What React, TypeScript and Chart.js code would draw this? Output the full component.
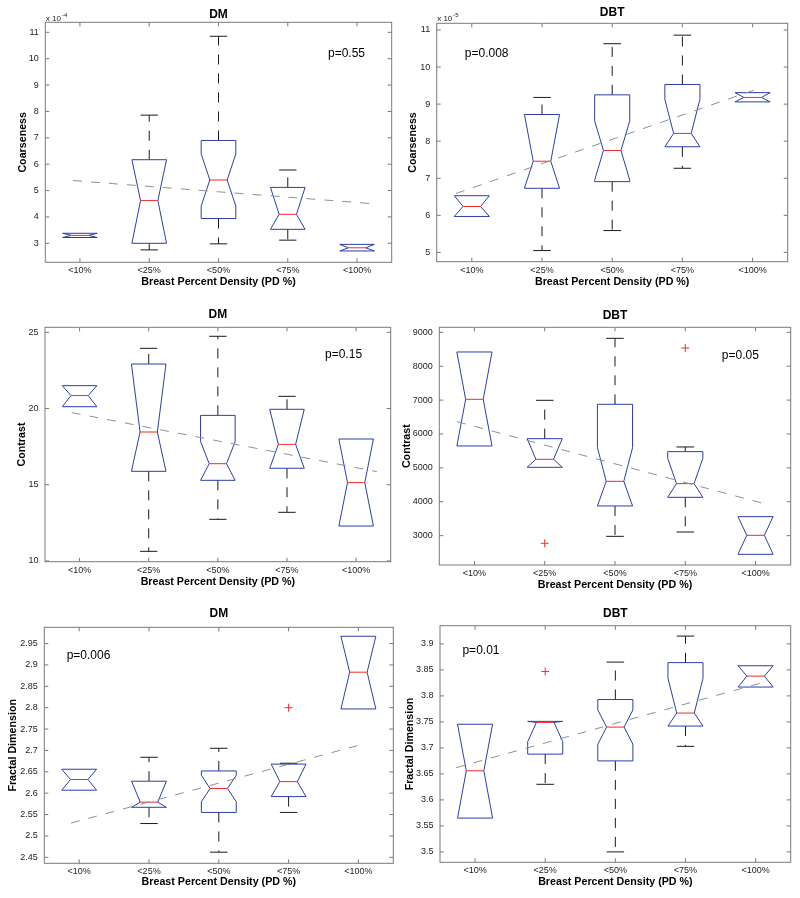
import React, { useEffect, useRef } from 'react';
import { Chart, registerables } from 'chart.js';

Chart.register(...registerables);

// ---------------- DATA ----------------
const categories = ['<10%', '<25%', '<50%', '<75%', '<100%'];
const xAxisTitle = 'Breast Percent Density (PD %)';

// DM – Coarseness (x 10^-4)
const dmCoarseLow = [3.22, 2.75, 2.98, 3.12, 2.71];
const dmCoarseQ1 = [3.22, 3.0, 3.94, 3.53, 2.71];
const dmCoarseMed = [3.3, 4.62, 5.4, 4.1, 2.83];
const dmCoarseQ3 = [3.38, 6.17, 6.9, 5.12, 2.96];
const dmCoarseHigh = [3.38, 7.86, 10.85, 5.78, 2.96];
const dmCoarseNotch = [0.3, 1.65, 0.99, 1.05, 0.2];
const dmCoarseOutCat: number[] = [];
const dmCoarseOutVal: number[] = [];
const dmCoarseTrendX = [0.9, 5.28];
const dmCoarseTrendY = [5.38, 4.49];
const dmCoarseTicks = [3, 4, 5, 6, 7, 8, 9, 10, 11];

// DBT – Coarseness (x 10^-5)
const dbtCoarseLow = [5.97, 5.05, 5.59, 7.27, 9.06];
const dbtCoarseQ1 = [5.97, 6.73, 6.91, 7.85, 9.06];
const dbtCoarseMed = [6.24, 7.46, 7.75, 8.21, 9.18];
const dbtCoarseQ3 = [6.53, 8.72, 9.25, 9.53, 9.31];
const dbtCoarseHigh = [6.53, 9.18, 10.63, 10.86, 9.31];
const dbtCoarseNotch = [0.5, 1.3, 0.8, 0.92, 0.2];
const dbtCoarseOutCat: number[] = [];
const dbtCoarseOutVal: number[] = [];
const dbtCoarseTrendX = [0.775, 5.1];
const dbtCoarseTrendY = [6.59, 9.43];
const dbtCoarseTicks = [5, 6, 7, 8, 9, 10, 11];

// DM – Contrast
const dmContrastLow = [20.12, 10.63, 12.73, 13.19, 12.29];
const dmContrastQ1 = [20.12, 15.88, 15.29, 16.08, 12.29];
const dmContrastMed = [20.85, 18.46, 16.38, 17.65, 15.14];
const dmContrastQ3 = [21.5, 22.92, 19.55, 19.95, 18.0];
const dmContrastHigh = [21.5, 23.95, 24.74, 20.8, 18.0];
const dmContrastNotch = [0.8, 4.5, 1.45, 2.3, 2.9];
const dmContrastOutCat: number[] = [];
const dmContrastOutVal: number[] = [];
const dmContrastTrendX = [0.886, 5.3];
const dmContrastTrendY = [19.73, 15.86];
const dmContrastTicks = [10, 15, 20, 25];

// DBT – Contrast
const dbtContrastLow = [5646, 5017, 2980, 3108, 2449];
const dbtContrastQ1 = [5646, 5017, 3876, 4131, 2449];
const dbtContrastMed = [7023, 5253, 4603, 4535, 3010];
const dbtContrastQ3 = [8420, 5862, 6876, 5479, 3561];
const dbtContrastHigh = [8420, 6994, 8823, 5617, 3561];
const dbtContrastNotch = [1400, 610, 995, 750, 560];
const dbtContrastOutCat = [2, 4];
const dbtContrastOutVal = [2774, 8538];
const dbtContrastTrendX = [0.75, 5.16];
const dbtContrastTrendY = [6364, 3925];
const dbtContrastTicks = [3000, 4000, 5000, 6000, 7000, 8000, 9000];

// DM – Fractal Dimension
const dmFractalLow = [2.607, 2.529, 2.462, 2.555, 2.797];
const dmFractalQ1 = [2.607, 2.567, 2.555, 2.592, 2.797];
const dmFractalMed = [2.632, 2.579, 2.611, 2.627, 2.883];
const dmFractalQ3 = [2.656, 2.628, 2.652, 2.668, 2.967];
const dmFractalHigh = [2.656, 2.684, 2.705, 2.67, 2.967];
const dmFractalNotch = [0.025, 0.05, 0.031, 0.042, 0.086];
const dmFractalOutCat = [4];
const dmFractalOutVal = [2.8];
const dmFractalTrendX = [0.88, 5.05];
const dmFractalTrendY = [2.53, 2.714];
const dmFractalTicks = [2.45, 2.5, 2.55, 2.6, 2.65, 2.7, 2.75, 2.8, 2.85, 2.9, 2.95];

// DBT – Fractal Dimension
const dbtFractalLow = [3.565, 3.63, 3.5, 3.703, 3.817];
const dbtFractalQ1 = [3.565, 3.688, 3.675, 3.742, 3.817];
const dbtFractalMed = [3.656, 3.749, 3.74, 3.767, 3.838];
const dbtFractalQ3 = [3.7455, 3.751, 3.793, 3.864, 3.858];
const dbtFractalHigh = [3.7455, 3.751, 3.865, 3.915, 3.858];
const dbtFractalNotch = [0.092, 0.037, 0.033, 0.067, 0.021];
const dbtFractalOutCat = [2];
const dbtFractalOutVal = [3.847];
const dbtFractalTrendX = [0.73, 5.11];
const dbtFractalTrendY = [3.662, 3.826];
const dbtFractalTicks = [3.5, 3.55, 3.6, 3.65, 3.7, 3.75, 3.8, 3.85, 3.9];

const pLabels = ['p=0.55', 'p=0.008', 'p=0.15', 'p=0.05', 'p=0.006', 'p=0.01'];

// ---------------- STYLE / LAYOUT ----------------
const FONT = '"Liberation Sans", Arial, Helvetica, sans-serif';
const BOX_WIDTH = 0.5;
const BOX_COLOR = '#2c3ea6';
const MEDIAN_COLOR = '#f02a2a';
const WHISKER_COLOR = '#1a1a1a';
const TREND_COLOR = '#8f8f8f';
const FRAME_COLOR = '#7a7a7a';

type Series = {
  low: number[]; q1: number[]; med: number[]; q3: number[]; high: number[]; notch: number[];
  outCat: number[]; outVal: number[]; trendX: number[]; trendY: number[]; ticks: number[];
};

type Panel = {
  title: string; yLabel: string; mult?: string; p: string; s: Series;
  yMin: number; yMax: number; pX: number; pY: number;
  cx: number; cy: number; cw: number; ch: number;
  L: number; T: number; R: number; B: number;
  titleY: number; yTitlePad: number; xTitlePad: number;
};

const panels: Panel[] = [
  {
    title: 'DM', yLabel: 'Coarseness', mult: '-4', p: pLabels[0],
    s: { low: dmCoarseLow, q1: dmCoarseQ1, med: dmCoarseMed, q3: dmCoarseQ3, high: dmCoarseHigh, notch: dmCoarseNotch, outCat: dmCoarseOutCat, outVal: dmCoarseOutVal, trendX: dmCoarseTrendX, trendY: dmCoarseTrendY, ticks: dmCoarseTicks },
    yMin: 2.28, yMax: 11.38, pX: 4.58, pY: 10.2,
    cx: 0, cy: 0, cw: 400, ch: 295, L: 45.3, T: 22.3, R: 391.7, B: 262.3,
    titleY: 15, yTitlePad: 16.3, xTitlePad: 6.9,
  },
  {
    title: 'DBT', yLabel: 'Coarseness', mult: '-5', p: pLabels[1],
    s: { low: dbtCoarseLow, q1: dbtCoarseQ1, med: dbtCoarseMed, q3: dbtCoarseQ3, high: dbtCoarseHigh, notch: dbtCoarseNotch, outCat: dbtCoarseOutCat, outVal: dbtCoarseOutVal, trendX: dbtCoarseTrendX, trendY: dbtCoarseTrendY, ticks: dbtCoarseTicks },
    yMin: 4.75, yMax: 11.18, pX: 0.9, pY: 10.37,
    cx: 400, cy: 0, cw: 400, ch: 295, L: 436.7, T: 23.3, R: 787.7, B: 261.7,
    titleY: 12.7, yTitlePad: 6.9, xTitlePad: 6.9,
  },
  {
    title: 'DM', yLabel: 'Contrast', p: pLabels[2],
    s: { low: dmContrastLow, q1: dmContrastQ1, med: dmContrastMed, q3: dmContrastQ3, high: dmContrastHigh, notch: dmContrastNotch, outCat: dmContrastOutCat, outVal: dmContrastOutVal, trendX: dmContrastTrendX, trendY: dmContrastTrendY, ticks: dmContrastTicks },
    yMin: 9.95, yMax: 25.33, pX: 4.55, pY: 23.51,
    cx: 0, cy: 295, cw: 400, ch: 300, L: 45, T: 327.3, R: 390.7, B: 561.7,
    titleY: 19.3, yTitlePad: 15.3, xTitlePad: 6.3,
  },
  {
    title: 'DBT', yLabel: 'Contrast', p: pLabels[3],
    s: { low: dbtContrastLow, q1: dbtContrastQ1, med: dbtContrastMed, q3: dbtContrastQ3, high: dbtContrastHigh, notch: dbtContrastNotch, outCat: dbtContrastOutCat, outVal: dbtContrastOutVal, trendX: dbtContrastTrendX, trendY: dbtContrastTrendY, ticks: dbtContrastTicks },
    yMin: 2134, yMax: 9148, pX: 4.52, pY: 8302,
    cx: 400, cy: 295, cw: 400, ch: 300, L: 439.3, T: 327.3, R: 790.7, B: 565,
    titleY: 20.7, yTitlePad: 0.9, xTitlePad: 3.6,
  },
  {
    title: 'DM', yLabel: 'Fractal Dimension', p: pLabels[4],
    s: { low: dmFractalLow, q1: dmFractalQ1, med: dmFractalMed, q3: dmFractalQ3, high: dmFractalHigh, notch: dmFractalNotch, outCat: dmFractalOutCat, outVal: dmFractalOutVal, trendX: dmFractalTrendX, trendY: dmFractalTrendY, ticks: dmFractalTicks },
    yMin: 2.436, yMax: 2.988, pX: 0.82, pY: 2.922,
    cx: 0, cy: 595, cw: 400, ch: 303, L: 44.3, T: 627.3, R: 393.3, B: 863.3,
    titleY: 18.3, yTitlePad: 6.9, xTitlePad: 9.3,
  },
  {
    title: 'DBT', yLabel: 'Fractal Dimension', p: pLabels[5],
    s: { low: dbtFractalLow, q1: dbtFractalQ1, med: dbtFractalMed, q3: dbtFractalQ3, high: dbtFractalHigh, notch: dbtFractalNotch, outCat: dbtFractalOutCat, outVal: dbtFractalOutVal, trendX: dbtFractalTrendX, trendY: dbtFractalTrendY, ticks: dbtFractalTicks },
    yMin: 3.48, yMax: 3.935, pX: 0.82, pY: 3.887,
    cx: 400, cy: 595, cw: 400, ch: 303, L: 440, T: 625.7, R: 790.7, B: 862.3,
    titleY: 18.3, yTitlePad: 3.6, xTitlePad: 9.3,
  },
];

function makePlugin(panel: Panel) {
  const s = panel.s;
  return {
    id: 'matlabBox',
    beforeDatasetsDraw(chart: any) {
      const { ctx, scales } = chart;
      const x = scales.x;
      const y = scales.y;
      ctx.save();
      ctx.lineWidth = 1;
      for (let i = 0; i < categories.length; i++) {
        const c = x.getPixelForValue(i + 1);
        const half = x.getPixelForValue(i + 1 + BOX_WIDTH / 2) - c;
        const inset = half * 0.5;
        const cap = half * 0.5;
        const pq1 = y.getPixelForValue(s.q1[i]);
        const pq3 = y.getPixelForValue(s.q3[i]);
        const pmed = y.getPixelForValue(s.med[i]);
        const pnHi = y.getPixelForValue(Math.min(s.med[i] + s.notch[i], s.q3[i]));
        const pnLo = y.getPixelForValue(Math.max(s.med[i] - s.notch[i], s.q1[i]));
        // whiskers
        ctx.strokeStyle = WHISKER_COLOR;
        if (s.high[i] > s.q3[i]) {
          const ph = y.getPixelForValue(s.high[i]);
          ctx.setLineDash([10, 9]);
          ctx.beginPath(); ctx.moveTo(c, pq3); ctx.lineTo(c, ph); ctx.stroke();
          ctx.setLineDash([]);
          ctx.beginPath(); ctx.moveTo(c - cap, ph); ctx.lineTo(c + cap, ph); ctx.stroke();
        }
        if (s.low[i] < s.q1[i]) {
          const pl = y.getPixelForValue(s.low[i]);
          ctx.setLineDash([10, 9]);
          ctx.beginPath(); ctx.moveTo(c, pq1); ctx.lineTo(c, pl); ctx.stroke();
          ctx.setLineDash([]);
          ctx.beginPath(); ctx.moveTo(c - cap, pl); ctx.lineTo(c + cap, pl); ctx.stroke();
        }
        // notched box
        ctx.setLineDash([]);
        ctx.strokeStyle = BOX_COLOR;
        ctx.beginPath();
        ctx.moveTo(c - half, pq3);
        ctx.lineTo(c - half, pnHi);
        ctx.lineTo(c - half + inset, pmed);
        ctx.lineTo(c - half, pnLo);
        ctx.lineTo(c - half, pq1);
        ctx.lineTo(c + half, pq1);
        ctx.lineTo(c + half, pnLo);
        ctx.lineTo(c + half - inset, pmed);
        ctx.lineTo(c + half, pnHi);
        ctx.lineTo(c + half, pq3);
        ctx.closePath();
        ctx.stroke();
        // median
        ctx.strokeStyle = MEDIAN_COLOR;
        ctx.beginPath();
        ctx.moveTo(c - half + inset, pmed);
        ctx.lineTo(c + half - inset, pmed);
        ctx.stroke();
      }
      ctx.restore();
    },
    afterDraw(chart: any) {
      const { ctx, chartArea: a, scales } = chart;
      const x = scales.x;
      const y = scales.y;
      ctx.save();
      // frame
      ctx.strokeStyle = FRAME_COLOR;
      ctx.lineWidth = 1;
      ctx.setLineDash([]);
      ctx.strokeRect(a.left, a.top, a.right - a.left, a.bottom - a.top);
      const tl = 4;
      ctx.beginPath();
      for (const t of y.ticks) {
        const py = y.getPixelForValue(t.value);
        ctx.moveTo(a.left, py); ctx.lineTo(a.left + tl, py);
        ctx.moveTo(a.right, py); ctx.lineTo(a.right - tl, py);
      }
      for (const t of x.ticks) {
        const px = x.getPixelForValue(t.value);
        ctx.moveTo(px, a.bottom); ctx.lineTo(px, a.bottom - tl);
        ctx.moveTo(px, a.top); ctx.lineTo(px, a.top + tl);
      }
      ctx.stroke();
      // title
      ctx.fillStyle = '#000';
      ctx.font = `bold 12px ${FONT}`;
      ctx.textAlign = 'center';
      ctx.textBaseline = 'middle';
      ctx.fillText(panel.title, (a.left + a.right) / 2, panel.titleY);
      // p value
      ctx.font = `12px ${FONT}`;
      ctx.textAlign = 'left';
      ctx.fillText(panel.p, x.getPixelForValue(panel.pX), y.getPixelForValue(panel.pY));
      // exponent label
      if (panel.mult) {
        ctx.fillStyle = '#222';
        ctx.font = `8px ${FONT}`;
        ctx.textBaseline = 'alphabetic';
        const base = 'x 10';
        ctx.fillText(base, a.left + 0.5, 21);
        const w = ctx.measureText(base).width;
        ctx.font = `6px ${FONT}`;
        ctx.fillText(panel.mult, a.left + 0.5 + w + 1, 17);
      }
      ctx.restore();
    },
  };
}

function PanelChart({ panel }: { panel: Panel }) {
  const ref = useRef<HTMLCanvasElement | null>(null);
  useEffect(() => {
    if (!ref.current) return;
    const s = panel.s;
    const chart = new Chart(ref.current, {
      type: 'scatter',
      data: {
        datasets: [
          {
            data: s.trendX.map((v, i) => ({ x: v, y: s.trendY[i] })),
            showLine: true,
            borderColor: TREND_COLOR,
            borderWidth: 1,
            borderDash: [9, 9],
            pointRadius: 0,
            fill: false,
          },
          {
            data: s.outCat.map((v, i) => ({ x: v, y: s.outVal[i] })),
            pointStyle: 'cross',
            pointRadius: 4,
            borderColor: '#ff2a2a',
            backgroundColor: '#ff2a2a',
            borderWidth: 1,
          },
        ],
      } as any,
      options: {
        responsive: false,
        animation: false,
        events: [],
        layout: {
          padding: { left: 0, top: panel.T - panel.cy, right: panel.cx + panel.cw - panel.R, bottom: 0 },
        },
        plugins: {
          legend: { display: false },
          tooltip: { enabled: false },
          title: { display: false },
        },
        scales: {
          x: {
            type: 'linear',
            min: 0.5,
            max: 5.5,
            afterBuildTicks: (sc: any) => {
              sc.ticks = categories.map((_, i) => ({ value: i + 1 }));
            },
            afterFit: (sc: any) => {
              sc.height = panel.cy + panel.ch - panel.B;
            },
            ticks: {
              callback: (v: any) => categories[Math.round(Number(v)) - 1] ?? '',
              font: { family: FONT, size: 9 },
              color: '#222',
              padding: 3,
              maxRotation: 0,
              autoSkip: false,
            },
            grid: { display: false, drawTicks: false },
            border: { display: false },
            title: {
              display: true,
              text: xAxisTitle,
              color: '#000',
              font: { family: FONT, size: 10.7, weight: 'bold', lineHeight: 1.2 },
              padding: { top: 0, bottom: panel.xTitlePad },
            },
          },
          y: {
            type: 'linear',
            min: panel.yMin,
            max: panel.yMax,
            afterBuildTicks: (sc: any) => {
              sc.ticks = s.ticks.map((v) => ({ value: v }));
            },
            afterFit: (sc: any) => {
              sc.width = panel.L - panel.cx;
            },
            ticks: {
              callback: (v: any) => String(Number(Number(v).toFixed(3))),
              font: { family: FONT, size: 9 },
              color: '#222',
              padding: 6.5,
              autoSkip: false,
            },
            grid: { display: false, drawTicks: false },
            border: { display: false },
            title: {
              display: true,
              text: panel.yLabel,
              color: '#000',
              font: { family: FONT, size: 10.7, weight: 'bold', lineHeight: 1.2 },
              padding: { top: panel.yTitlePad, bottom: 0 },
            },
          },
        },
      } as any,
      plugins: [makePlugin(panel)],
    });
    return () => chart.destroy();
  }, [panel]);
  return (
    <canvas
      ref={ref}
      width={panel.cw}
      height={panel.ch}
      style={{ position: 'absolute', left: panel.cx, top: panel.cy, width: panel.cw, height: panel.ch }}
    />
  );
}

export default function App() {
  return (
    <div style={{ position: 'absolute', left: 0, top: 0, width: 800, height: 898, background: '#fff' }}>
      {panels.map((p, i) => (
        <PanelChart key={i} panel={p} />
      ))}
    </div>
  );
}
